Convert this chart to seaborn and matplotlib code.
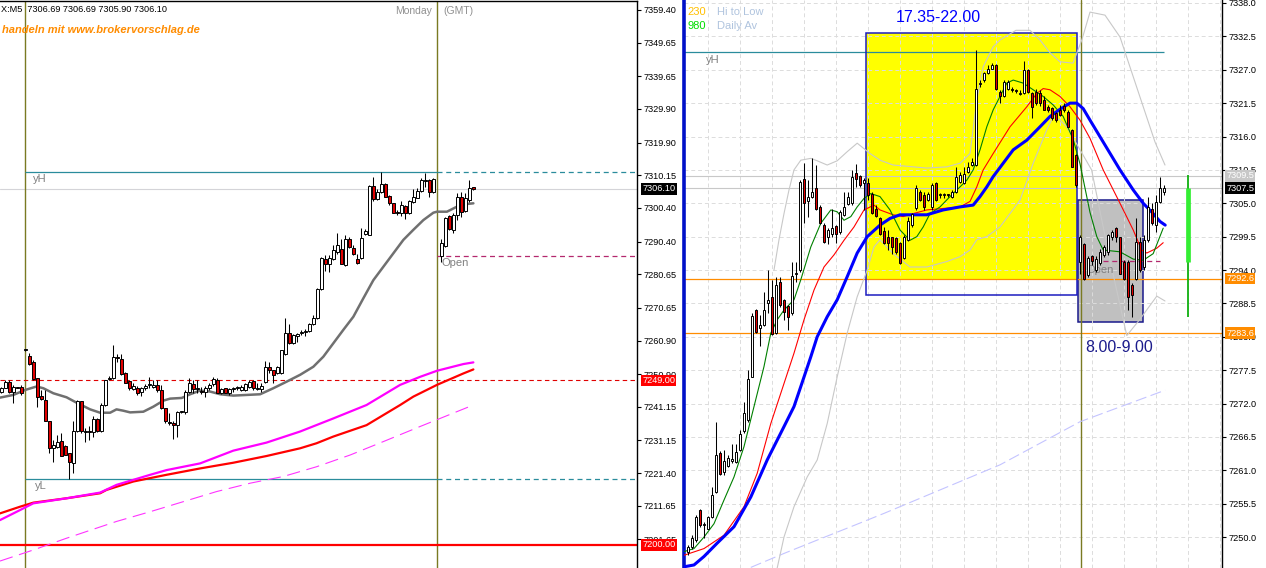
import numpy as np
import pandas as pd
import matplotlib
matplotlib.use("Agg")
import matplotlib.pyplot as plt
import seaborn as sns
from matplotlib.patches import Rectangle

W, H = 1266, 568

# ===================== LEFT CHART DATA (X,M5) =====================
L_slot = list(range(0, 109)) + list(range(110, 119))
L_open = [7245.6, 7246.9, 7248.6, 7245.5, 7246.9, 7247.2, 7258.0, 7256.3, 7254.6, 7249.7,
          7244.5, 7243.3, 7236.8, 7228.8, 7229.3, 7231.0, 7229.6, 7227.3, 7224.5, 7234.1,
          7243.0, 7233.6, 7233.9, 7233.8, 7237.6, 7234.1, 7241.6, 7249.4, 7249.7, 7255.8,
          7255.5, 7251.2, 7248.9, 7246.4, 7246.9, 7245.5, 7246.7, 7247.6, 7247.0, 7247.7,
          7246.2, 7240.7, 7236.4, 7236.3, 7235.6, 7239.5, 7239.6, 7245.5, 7247.9, 7246.6,
          7245.7, 7245.7, 7246.9, 7247.9, 7249.2, 7245.4, 7246.7, 7245.2, 7246.6, 7246.8,
          7246.2, 7246.2, 7247.2, 7248.9, 7246.6, 7246.4, 7248.7, 7253.0, 7252.0, 7251.2,
          7251.2, 7257.0, 7263.3, 7260.3, 7262.2, 7263.1, 7263.4, 7263.8, 7265.7, 7267.5,
          7276.2, 7285.3, 7283.8, 7285.3, 7287.3, 7288.3, 7283.5, 7291.1, 7288.5, 7285.1,
          7285.5, 7292.6, 7292.5, 7307.0, 7303.0, 7305.3, 7307.5, 7304.0, 7301.8, 7299.3,
          7298.8, 7301.0, 7298.8, 7302.3, 7303.5, 7305.6, 7308.5, 7308.6, 7305.1,
          7286.1, 7289.1, 7298.0, 7293.8, 7298.3, 7303.8, 7299.6, 7302.8, 7306.69]
L_high = [7247.2, 7249.2, 7249.2, 7247.7, 7247.0, 7247.7, 7258.3, 7257.3, 7255.1, 7249.7,
          7246.2, 7246.2, 7236.8, 7231.3, 7232.8, 7233.3, 7229.8, 7227.3, 7236.8, 7243.3,
          7243.0, 7234.8, 7235.3, 7238.3, 7237.8, 7242.3, 7249.2, 7250.2, 7259.5, 7257.0,
          7257.0, 7251.4, 7249.2, 7248.2, 7247.4, 7247.2, 7247.9, 7249.9, 7249.2, 7249.2,
          7247.7, 7240.7, 7239.3, 7236.8, 7239.8, 7239.8, 7246.2, 7249.7, 7249.2, 7249.2,
          7247.2, 7247.4, 7248.2, 7249.9, 7249.7, 7246.9, 7246.9, 7246.9, 7247.2, 7247.4,
          7247.7, 7248.4, 7249.2, 7249.2, 7248.2, 7248.4, 7254.7, 7254.4, 7252.2, 7253.4,
          7258.2, 7267.5, 7265.8, 7263.0, 7263.2, 7264.0, 7264.2, 7266.0, 7268.5, 7276.5,
          7285.8, 7286.3, 7286.3, 7289.3, 7293.0, 7291.3, 7292.3, 7291.8, 7289.3, 7286.8,
          7294.3, 7294.1, 7307.3, 7309.6, 7306.0, 7311.1, 7307.8, 7304.3, 7302.0, 7299.8,
          7302.6, 7301.3, 7302.8, 7306.0, 7306.3, 7309.3, 7310.8, 7309.0, 7309.3,
          7291.2, 7297.8, 7298.3, 7298.9, 7304.9, 7305.3, 7304.9, 7308.8, 7306.69]
L_low = [7245.2, 7246.7, 7245.2, 7242.4, 7246.7, 7244.7, 7257.8, 7253.5, 7249.0, 7241.2,
         7243.2, 7236.8, 7227.3, 7224.8, 7228.8, 7226.6, 7226.8, 7219.6, 7221.5, 7233.8,
         7233.5, 7230.8, 7231.3, 7232.3, 7233.8, 7233.8, 7241.3, 7249.0, 7249.4, 7254.5,
         7250.7, 7248.2, 7246.2, 7246.2, 7244.7, 7244.4, 7246.2, 7246.7, 7246.7, 7245.7,
         7240.4, 7236.3, 7235.8, 7231.5, 7232.1, 7239.3, 7239.0, 7245.2, 7245.2, 7245.2,
         7245.0, 7244.0, 7246.2, 7247.4, 7245.2, 7245.0, 7245.2, 7244.7, 7245.7, 7246.2,
         7246.0, 7246.0, 7246.7, 7246.2, 7246.2, 7245.7, 7248.4, 7251.2, 7248.4, 7251.0,
         7251.0, 7256.5, 7259.8, 7260.0, 7260.5, 7262.5, 7262.2, 7263.5, 7265.5, 7267.2,
         7276.0, 7281.5, 7281.2, 7285.0, 7286.8, 7283.6, 7283.2, 7288.6, 7286.3, 7283.8,
         7285.3, 7292.4, 7292.3, 7302.6, 7302.8, 7305.0, 7303.6, 7301.3, 7298.8, 7298.3,
         7298.0, 7297.0, 7298.6, 7302.0, 7303.3, 7305.3, 7306.8, 7303.8, 7304.8,
         7284.4, 7288.7, 7293.8, 7293.0, 7296.8, 7297.8, 7299.3, 7302.3, 7305.90]
L_close = [7246.7, 7248.6, 7245.5, 7247.2, 7246.8, 7245.2, 7258.1, 7253.9, 7249.5, 7244.0,
           7243.5, 7236.8, 7228.8, 7229.8, 7230.8, 7226.6, 7226.8, 7224.8, 7234.0, 7242.8,
           7234.1, 7233.7, 7233.8, 7237.6, 7234.1, 7241.8, 7249.2, 7249.6, 7256.0, 7255.6,
           7251.0, 7248.4, 7246.7, 7247.4, 7245.4, 7246.7, 7247.5, 7247.7, 7247.7, 7246.2,
           7240.7, 7236.8, 7236.2, 7235.6, 7239.6, 7239.7, 7245.7, 7248.2, 7246.4, 7246.8,
           7245.6, 7246.9, 7247.7, 7249.5, 7245.4, 7246.5, 7245.4, 7246.4, 7246.7, 7246.9,
           7247.2, 7248.0, 7248.7, 7246.7, 7246.8, 7247.4, 7253.0, 7252.0, 7250.7, 7253.0,
           7258.0, 7263.3, 7260.3, 7262.5, 7263.0, 7263.3, 7263.6, 7265.8, 7267.7, 7276.3,
           7285.5, 7283.8, 7285.5, 7287.8, 7289.3, 7283.8, 7291.1, 7288.8, 7286.6, 7284.0,
           7291.6, 7293.4, 7307.0, 7303.0, 7305.3, 7307.5, 7303.8, 7301.8, 7299.0, 7298.8,
           7301.3, 7298.8, 7302.5, 7303.6, 7305.6, 7308.6, 7308.7, 7305.1, 7309.1,
           7289.9, 7297.3, 7294.1, 7298.3, 7303.8, 7299.3, 7303.3, 7306.3, 7306.10]

# moving averages (read at sample points)
L_ma_x = [-0.33, 3.0, 6.0, 8.8, 10.5, 13.0, 16.3, 18.8, 22.2, 24.7, 27.2, 28.8, 30.5, 32.2, 35.5,
          38.0, 40.5, 42.2, 45.1, 47.2, 49.7, 52.2, 54.7, 58.0, 64.7, 68.0, 71.4, 74.7, 78.0,
          80.5, 83.0, 85.5, 88.0, 90.5, 93.0, 95.5, 98.0, 100.5, 103.0, 105.5, 108.0, 108.9,
          111.4, 113.9, 116.4, 118.0]
L_ma_y = [7243.9, 7244.7, 7246.2, 7247.2, 7246.7, 7245.2, 7244.0, 7242.4, 7240.4, 7239.4, 7239.4,
          7240.4, 7240.0, 7239.5, 7239.7, 7241.2, 7243.0, 7243.6, 7243.8, 7244.9, 7246.0, 7245.7,
          7244.9, 7244.5, 7244.9, 7246.7, 7248.7, 7250.7, 7253.1, 7256.1, 7260.1, 7264.1, 7268.0,
          7273.5, 7278.9, 7282.9, 7286.9, 7290.9, 7293.9, 7296.8, 7299.0, 7299.3, 7299.3, 7300.8,
          7301.6, 7301.8]
L_mag_x = [-0.33, 4.7, 8.0, 16.3, 24.7, 28.8, 33.0, 37.2, 41.3, 49.7, 58.0, 66.3, 74.7, 83.0,
           91.3, 99.7, 104.7, 108.9, 115.5, 118.0]
L_mag_y = [7207.4, 7210.4, 7212.4, 7213.9, 7215.6, 7217.9, 7219.4, 7220.9, 7222.3, 7224.3, 7228.1,
           7230.5, 7233.8, 7237.7, 7241.7, 7247.7, 7250.1, 7251.9, 7253.9, 7254.4]
L_red_x = [-0.33, 4.7, 8.0, 16.3, 24.7, 26.3, 33.0, 41.3, 49.7, 58.0, 66.3, 74.7, 78.8, 83.0,
           91.3, 99.7, 103.0, 108.9, 115.5, 118.0]
L_red_y = [7209.4, 7211.4, 7212.6, 7213.9, 7215.4, 7216.4, 7218.9, 7220.9, 7222.8, 7224.5, 7226.5,
           7228.8, 7230.3, 7232.3, 7235.7, 7241.7, 7244.2, 7247.7, 7251.1, 7252.3]
L_dash_x = [-0.33, 8.0, 16.3, 28.8, 37.2, 45.5, 53.8, 62.2, 70.5, 78.8, 87.2, 95.5, 104.7, 118.0]
L_dash_y = [7195.2, 7198.5, 7202.0, 7207.0, 7209.9, 7212.9, 7215.9, 7218.4, 7220.4, 7223.3,
            7226.8, 7230.8, 7235.3, 7241.7]

L_ticks = [7359.40, 7349.65, 7339.65, 7329.90, 7319.90, 7310.15, 7300.40, 7290.40, 7280.65,
           7270.65, 7260.90, 7250.90, 7241.15, 7231.15, 7221.40, 7211.65, 7201.65]
L_day_sep = [6, 109]
L_yH, L_yL = 7311.1, 7219.6
L_open_lvl = 7286.1
L_pivot = 7249.00
L_round = 7200.00
L_last = 7306.10

# ===================== RIGHT CHART DATA =====================
R_slot = list(range(0, 120))
R_open = [7247.6, 7248.3, 7249.5, 7254.4, 7252.0, 7251.4, 7253.3, 7257.5, 7263.8, 7260.8,
          7261.7, 7262.6, 7262.4, 7264.3, 7267.4, 7269.3, 7276.4, 7287.4, 7284.4, 7284.9,
          7288.5, 7289.6, 7283.6, 7292.1, 7289.1, 7288.0, 7286.9, 7293.4, 7294.0, 7309.0,
          7305.4, 7306.0, 7307.5, 7304.4, 7301.4, 7299.5, 7300.0, 7301.3, 7300.3, 7303.1,
          7304.9, 7305.0, 7310.0, 7309.5, 7308.3, 7308.4, 7306.5, 7304.0, 7302.5, 7300.4,
          7299.5, 7299.4, 7299.2, 7298.4, 7295.9, 7299.0, 7301.4, 7304.2, 7306.9, 7306.4,
          7305.5, 7304.4, 7308.4, 7306.3, 7306.3, 7306.4, 7306.1, 7306.9, 7308.5, 7308.3,
          7310.2, 7311.3, 7311.3, 7324.7, 7325.3, 7326.4, 7327.2, 7327.8, 7323.4, 7322.6,
          7323.9, 7323.8, 7323.6, 7323.0, 7323.1, 7327.0, 7323.1, 7323.4, 7323.1, 7322.0,
          7320.9, 7320.7, 7319.8, 7320.4, 7321.0, 7320.1, 7317.1, 7313.0, 7295.4, 7298.3,
          7293.2, 7296.3, 7294.0, 7295.1, 7296.5, 7296.9, 7299.4, 7300.9, 7299.4, 7295.4,
          7295.4, 7291.5, 7292.6, 7298.7, 7294.5, 7299.0, 7304.0, 7301.4, 7305.2, 7306.9]
R_high = [7248.7, 7250.3, 7253.6, 7254.6, 7252.4, 7253.4, 7258.3, 7269.0, 7264.1, 7264.3,
          7263.5, 7265.4, 7265.4, 7267.6, 7272.3, 7277.5, 7286.9, 7287.5, 7286.6, 7290.4,
          7294.0, 7292.4, 7292.9, 7292.9, 7289.2, 7288.2, 7295.4, 7295.4, 7308.8, 7311.6,
          7308.8, 7312.4, 7311.3, 7304.7, 7301.7, 7301.0, 7304.0, 7301.4, 7303.9, 7306.9,
          7306.9, 7310.5, 7311.5, 7309.7, 7309.1, 7309.2, 7306.9, 7304.7, 7302.8, 7301.1,
          7300.6, 7299.5, 7299.5, 7298.7, 7299.8, 7302.8, 7303.4, 7308.0, 7307.2, 7306.9,
          7306.9, 7308.4, 7308.5, 7306.7, 7306.7, 7306.6, 7307.2, 7311.0, 7310.2, 7311.0,
          7311.8, 7312.4, 7330.3, 7325.3, 7326.7, 7327.8, 7328.1, 7328.0, 7323.7, 7325.3,
          7325.3, 7324.2, 7323.9, 7323.7, 7328.5, 7327.1, 7323.4, 7323.9, 7323.7, 7322.6,
          7321.2, 7320.9, 7320.1, 7321.2, 7321.5, 7320.4, 7317.3, 7313.2, 7299.8, 7298.4,
          7296.3, 7296.5, 7296.3, 7297.4, 7298.1, 7300.0, 7300.6, 7301.1, 7299.5, 7295.7,
          7295.7, 7291.8, 7302.5, 7299.5, 7299.8, 7306.1, 7305.0, 7306.4, 7309.4, 7308.0]
R_low = [7247.0, 7248.1, 7249.2, 7251.7, 7249.8, 7251.3, 7253.1, 7257.2, 7260.2, 7260.2,
         7261.5, 7262.2, 7262.2, 7264.1, 7267.1, 7269.0, 7276.3, 7283.6, 7281.4, 7284.7,
         7286.9, 7283.3, 7283.4, 7287.9, 7285.8, 7284.1, 7286.6, 7292.1, 7293.7, 7301.8,
         7302.8, 7305.8, 7303.9, 7301.6, 7298.4, 7298.3, 7299.5, 7298.4, 7300.0, 7302.9,
         7304.7, 7304.7, 7307.7, 7307.7, 7303.9, 7305.5, 7303.3, 7302.8, 7299.8, 7298.3,
         7297.3, 7296.7, 7296.7, 7295.0, 7295.8, 7298.8, 7301.1, 7303.9, 7305.3, 7303.9,
         7305.3, 7303.9, 7305.4, 7305.9, 7305.9, 7306.0, 7305.8, 7306.7, 7308.4, 7308.2,
         7310.0, 7311.1, 7311.1, 7324.2, 7325.0, 7326.3, 7327.1, 7323.7, 7321.5, 7322.5,
         7323.7, 7323.4, 7323.1, 7322.8, 7323.0, 7323.1, 7319.0, 7321.2, 7321.0, 7320.3,
         7320.1, 7318.8, 7318.4, 7319.3, 7320.1, 7317.5, 7310.9, 7307.7, 7293.4, 7292.4,
         7292.9, 7294.8, 7293.7, 7294.8, 7296.1, 7296.5, 7298.9, 7298.7, 7293.3, 7292.4,
         7287.4, 7286.3, 7292.4, 7293.7, 7294.0, 7298.7, 7301.4, 7300.3, 7305.0, 7306.4]
R_close = [7248.3, 7249.9, 7253.3, 7252.0, 7252.1, 7253.3, 7256.9, 7263.5, 7260.4, 7262.5,
           7263.0, 7262.8, 7264.0, 7267.0, 7270.4, 7276.0, 7286.4, 7283.8, 7284.9, 7287.4,
           7289.1, 7283.4, 7291.5, 7288.2, 7287.1, 7286.3, 7293.0, 7293.5, 7308.5, 7305.0,
           7306.0, 7306.9, 7304.0, 7301.8, 7298.7, 7300.6, 7300.9, 7300.0, 7303.6, 7304.4,
           7306.0, 7309.4, 7309.0, 7308.0, 7308.8, 7306.4, 7303.4, 7302.9, 7299.9, 7298.4,
           7298.5, 7297.8, 7297.0, 7295.2, 7299.5, 7302.0, 7303.3, 7307.5, 7305.5, 7304.4,
           7306.6, 7308.0, 7305.5, 7306.4, 7306.5, 7306.3, 7306.9, 7309.4, 7309.7, 7309.9,
           7310.9, 7311.8, 7323.9, 7324.8, 7326.4, 7327.1, 7327.8, 7323.9, 7322.6, 7325.0,
           7325.0, 7323.7, 7323.5, 7323.2, 7327.0, 7323.4, 7320.9, 7321.5, 7321.5, 7320.4,
           7320.4, 7319.0, 7318.7, 7319.5, 7320.4, 7317.6, 7311.0, 7308.0, 7299.5, 7292.6,
           7295.9, 7295.5, 7295.8, 7297.0, 7297.8, 7299.8, 7300.3, 7299.4, 7293.4, 7292.6,
           7289.6, 7289.9, 7298.7, 7294.0, 7299.0, 7304.4, 7301.8, 7305.2, 7307.5, 7307.5]

R_blue_x = [-1.0, 1.5, 4.0, 7.3, 11.5, 15.7, 19.8, 24.0, 26.5, 28.2, 30.7, 32.3, 34.8, 37.3, 39.8,
            42.3, 44.8, 48.0, 50.5, 53.0, 59.7, 63.8, 68.0, 71.3, 73.0, 74.7, 76.3, 78.8, 81.3,
            84.7, 88.0, 90.5, 93.0, 95.5, 97.2, 98.8, 100.5, 108.0, 111.3, 113.8, 116.3, 118.0, 119.3]
R_blue_y = [7245.1, 7245.4, 7246.8, 7249.0, 7251.7, 7256.6, 7262.7, 7268.2, 7271.5, 7274.8, 7279.7,
            7283.0, 7286.3, 7289.1, 7292.9, 7296.8, 7299.5, 7301.4, 7302.5, 7303.1, 7303.1, 7303.9,
            7304.4, 7304.7, 7306.1, 7307.7, 7309.4, 7311.6, 7313.8, 7315.4, 7317.6, 7319.3, 7320.5,
            7321.5, 7321.5, 7320.6, 7318.7, 7310.5, 7307.2, 7305.0, 7303.3, 7302.0, 7301.4]
R_red_x = [-1.0, 4.0, 9.0, 14.0, 17.3, 20.7, 24.0, 26.5, 29.0, 31.5, 34.0, 36.5, 39.0, 41.5, 44.0,
           46.5, 48.0, 51.3, 53.8, 56.3, 59.7, 64.7, 68.0, 70.5, 72.2, 73.8, 76.3, 80.5, 84.7, 87.2,
           88.8, 90.5, 93.0, 95.5, 98.0, 100.5, 103.8, 108.0, 111.3, 113.4, 114.7, 117.2, 118.8]
R_red_y = [7247.0, 7248.1, 7250.3, 7255.0, 7260.5, 7268.7, 7275.3, 7280.3, 7285.8, 7290.7, 7294.5,
           7296.5, 7298.9, 7301.1, 7303.9, 7304.7, 7303.9, 7303.1, 7302.8, 7303.3, 7303.9, 7304.2,
           7304.4, 7305.3, 7307.7, 7310.5, 7313.2, 7317.6, 7320.9, 7323.1, 7323.9, 7323.7, 7322.6,
           7320.9, 7318.7, 7315.7, 7310.5, 7305.0, 7300.6, 7297.3, 7296.8, 7297.6, 7298.5]
R_green_x = [-1.0, 1.5, 4.0, 6.5, 9.0, 11.5, 14.0, 16.5, 19.0, 20.7, 22.3, 24.0, 26.5, 28.2, 30.7,
             33.2, 35.7, 37.3, 39.0, 40.7, 42.3, 44.0, 45.7, 48.0, 50.5, 53.0, 55.5, 57.2, 58.8,
             60.5, 63.0, 65.5, 68.0, 69.7, 71.3, 73.0, 74.7, 76.3, 78.0, 79.7, 81.3, 83.8, 86.3,
             88.8, 91.3, 93.8, 96.3, 98.0, 100.5, 102.2, 103.8, 108.0, 111.3, 113.8, 116.3, 118.8]
R_green_y = [7247.6, 7248.1, 7250.0, 7252.2, 7256.1, 7259.9, 7264.9, 7271.5, 7278.1, 7283.6, 7285.8,
             7287.4, 7289.1, 7292.4, 7297.8, 7301.7, 7303.9, 7303.6, 7302.2, 7302.8, 7304.4, 7305.8,
             7306.6, 7306.1, 7303.9, 7300.6, 7298.9, 7299.5, 7301.1, 7303.3, 7304.4, 7306.1, 7307.7,
             7308.8, 7310.5, 7313.8, 7317.6, 7320.4, 7322.6, 7324.8, 7325.3, 7324.8, 7323.7, 7322.6,
             7321.2, 7319.3, 7315.5, 7311.5, 7303.5, 7299.5, 7297.3, 7297.0, 7295.8, 7295.6, 7296.7,
             7300.9]
R_up_x = [21.5, 22.75, 24.0, 25.25, 26.5, 28.2, 30.7, 32.3, 34.8, 37.3, 39.8, 42.3, 45.5, 48.0,
          51.3, 59.7, 64.7, 68.0, 70.5, 72.2, 73.8, 76.3, 78.0, 82.0, 85.5, 88.0, 90.5, 93.0, 96.25,
          98.5, 100.5, 104.25, 108.0, 113.0, 116.75, 119.25]
R_up_y = [7294.0, 7299.0, 7303.3, 7307.2, 7310.5, 7312.1, 7312.4, 7312.0, 7311.3, 7312.0, 7313.5,
          7314.9, 7313.2, 7312.1, 7311.3, 7310.8, 7311.0, 7311.6, 7313.2, 7322.0, 7327.5, 7330.8,
          7331.9, 7333.5, 7333.5, 7331.9, 7329.8, 7328.3, 7328.1, 7332.0, 7336.5, 7336.0, 7332.4,
          7322.5, 7315.1, 7311.3]
R_lo_x = [22.3, 24.0, 26.5, 29.8, 32.3, 34.8, 37.3, 39.8, 42.3, 44.8, 46.5, 48.0, 51.3, 55.5, 59.7,
          64.7, 68.0, 70.5, 72.2, 74.7, 78.0, 83.0, 86.3, 89.7, 91.3, 93.0, 94.7, 100.9, 105.5,
          109.7, 113.0, 117.2, 119.25]
R_lo_y = [7244.9, 7250.0, 7255.0, 7259.9, 7262.7, 7268.7, 7276.4, 7283.6, 7289.6, 7294.0, 7297.8,
          7299.0, 7296.7, 7294.5, 7294.5, 7295.4, 7296.2, 7297.3, 7299.0, 7299.5, 7301.1, 7305.5,
          7311.6, 7317.1, 7319.3, 7318.7, 7317.6, 7310.5, 7295.6, 7283.2, 7285.9, 7289.7, 7288.9]
R_lav_x = [15.7, 24.0, 32.3, 40.7, 49.0, 78.0, 98.0, 119.3]
R_lav_y = [7245.0, 7247.3, 7249.5, 7251.7, 7253.9, 7261.9, 7269.0, 7274.2]

R_ticks = [7338.0, 7332.5, 7327.0, 7321.5, 7316.0, 7310.5, 7305.0, 7299.5, 7294.0, 7288.5,
           7283.0, 7277.5, 7272.0, 7266.5, 7261.0, 7255.5, 7250.0]
R_day_sep = 98.2
R_yH = 7330.0
R_open_lvl = 7295.5
R_hi_lo, R_daily_av = 230, 980
R_range_hi, R_range_lo = 7292.6, 7283.6
R_prev, R_last = 7309.5, 7307.5
# session boxes
S_label = ["17.35-22.00", "8.00-9.00"]
S_label_x = [62.5, 107.9]
S_label_y = [7335.6, 7281.2]
S_x0 = [44.5, 97.5]
S_x1 = [97.25, 113.7]
S_top = [7333.06, 7305.5]
S_bot = [7289.9, 7285.4]
S_fill_bot = [7292.6, 7285.4]
# projection bar
P_slot = 125
P_thin = (7286.3, 7309.7)
P_thick = (7295.3, 7307.5)

# ===================== DRAWING =====================
sns.set_style("white")
plt.rcParams['font.family'] = ['Liberation Sans', 'DejaVu Sans']

fig = plt.figure(figsize=(W / 100, H / 100), dpi=100)
fig.patch.set_facecolor("white")
axL = fig.add_axes([0, 0, 637 / W, 567 / H])
axR = fig.add_axes([684 / W, 0, 538 / W, 1.0])

UP, DOWN = "white", "#e00000"
OLIVE = "#7a7a22"
TEAL = "#2a8c9c"
PINK = "#b4286e"


def candles(ax, slots, o, h, l, c, min_h, z=4):
    s = np.asarray(slots, float)
    o = np.asarray(o); h = np.asarray(h); l = np.asarray(l); c = np.asarray(c)
    ax.vlines(s, l, h, color="black", lw=0.75, zorder=z)
    bot = np.minimum(o, c)
    ht = np.maximum(np.abs(c - o), min_h)
    cols = np.where(c >= o, UP, DOWN)
    ax.bar(s, ht, 0.72, bottom=bot, color=cols, edgecolor="black", linewidth=0.7, zorder=z + 0.1)


def line(ax, xs, ys, color, lw, z=3, dashes=None):
    df = pd.DataFrame({"x": xs, "y": ys})
    sns.lineplot(data=df, x="x", y="y", ax=ax, color=color, linewidth=lw, estimator=None,
                 sort=False, legend=False, zorder=z)
    if dashes is not None:
        ax.lines[-1].set_dashes(dashes)


def price_tag(ax, y, txt, fc, dx):
    ax.text(1 + dx, y, txt, transform=ax.get_yaxis_transform(), ha="left", va="center",
            fontsize=6.6, color="white", clip_on=False, zorder=10,
            bbox=dict(boxstyle="square,pad=0.15", fc=fc, ec="none"))


# ---------- LEFT ----------
axL.set_xlim(-0.325, 158.9)
axL.set_ylim(7193.13, 7362.08)
for s in ["left", "bottom"]:
    axL.spines[s].set_visible(False)
for s in ["top", "right"]:
    axL.spines[s].set_color("black")
    axL.spines[s].set_linewidth(1.0)
axL.set_xticks([])
axL.yaxis.tick_right()
axL.set_yticks(L_ticks)
axL.set_yticklabels([f"{v:.2f}" for v in L_ticks])
axL.tick_params(axis="y", direction="out", length=3, width=0.8, pad=2, labelsize=6.6, colors="black")

for xs in L_day_sep:
    axL.axvline(xs, color=OLIVE, lw=1.0, zorder=2)
axL.axhline(L_round, color="#ff0000", lw=1.6, zorder=2)
axL.axhline(L_pivot, color="#e00000", lw=0.8, ls=(0, (4, 3)), zorder=2)
axL.axhline(L_last, color="#d4d4d8", lw=0.8, zorder=1)
for lvl in [L_yH, L_yL]:
    axL.hlines(lvl, L_day_sep[0], L_day_sep[1], color=TEAL, lw=0.9, zorder=2)
    axL.hlines(lvl, L_day_sep[1], 158.9, color=TEAL, lw=0.9, linestyles=(0, (4, 3)), zorder=2)
axL.hlines(L_open_lvl, L_day_sep[1], 158.9, color=PINK, lw=0.9, linestyles=(0, (4, 3)), zorder=2)

line(axL, L_dash_x, L_dash_y, "#ff33ff", 0.8, dashes=(12, 6))
line(axL, L_red_x, L_red_y, "#ff0000", 1.6)
line(axL, L_mag_x, L_mag_y, "#ff00ff", 1.6)
line(axL, L_ma_x, L_ma_y, "#707070", 1.8)
axL.set_xlabel(""); axL.set_ylabel("")
candles(axL, L_slot, L_open, L_high, L_low, L_close, 0.3)

axL.text(7.8, L_yH - 0.6, "yH", color="#808080", fontsize=8, va="top", ha="left")
axL.text(8.3, L_yL - 0.6, "yL", color="#808080", fontsize=8, va="top", ha="left")
axL.text(110.0, L_open_lvl - 0.5, "Open", color="#808080", fontsize=8, va="top", ha="left")

price_tag(axL, L_pivot, f"{L_pivot:.2f}", "#ff0000", 0.008)
price_tag(axL, L_last, f"{L_last:.2f}", "black", 0.008)
price_tag(axL, L_round, f"{L_round:.2f}", "#ff0000", 0.008)

fig.text(1 / W, 1 - 10 / H, "X:M5  7306.69 7306.69 7305.90 7306.10", fontsize=6.6,
         color="black", va="center", ha="left")
fig.text(2 / W, 1 - 30 / H, "handeln mit www.brokervorschlag.de", fontsize=8,
         color="#ff8c00", fontweight="bold", fontstyle="italic", va="center", ha="left")
fig.text(432 / W, 1 - 11 / H, "Monday", fontsize=7.5, color="#909090", va="center", ha="right")
fig.text(443 / W, 1 - 11 / H, "(GMT)", fontsize=7.5, color="#909090", va="center", ha="left")

# ---------- RIGHT ----------
axR.set_xlim(-1.0, 133.5)
axR.set_ylim(7244.9, 7338.494)
for s in ["top", "bottom"]:
    axR.spines[s].set_visible(False)
axR.spines["right"].set_color("black")
axR.spines["right"].set_linewidth(1.0)
axR.spines["left"].set_color("#0010c8")
axR.spines["left"].set_linewidth(2.6)
axR.set_xticks([])
axR.yaxis.tick_right()
axR.set_yticks(R_ticks)
axR.set_yticklabels([f"{v:.1f}" for v in R_ticks])
axR.tick_params(axis="y", direction="out", length=3, width=0.8, pad=2, labelsize=6.6, colors="black")

# session boxes
for i in range(len(S_label)):
    if i == 0:
        axR.add_patch(Rectangle((S_x0[i], S_fill_bot[i]), S_x1[i] - S_x0[i], S_top[i] - S_fill_bot[i],
                                fc="#ffff00", ec="none", zorder=1))
        axR.add_patch(Rectangle((S_x0[i], S_bot[i]), S_x1[i] - S_x0[i], S_top[i] - S_bot[i],
                                fill=False, ec="#1c1cc0", lw=1.1, zorder=2.5))
    else:
        axR.add_patch(Rectangle((S_x0[i], S_bot[i]), S_x1[i] - S_x0[i], S_top[i] - S_bot[i],
                                fc="#c0c0c0", ec="#1a1a8c", lw=1.1, zorder=1))

# dashed grid above boxes
for t in R_ticks:
    axR.axhline(t, color="#dcdcdc", lw=0.7, ls=(0, (4, 3)), zorder=1.5)
for gx in range(5, 134, 8):
    axR.axvline(gx, color="#dcdcdc", lw=0.7, ls=(0, (4, 3)), zorder=1.5)

axR.axhline(R_range_hi, color="#ff8c00", lw=0.9, zorder=2)
axR.axhline(R_range_lo, color="#ff8c00", lw=0.9, zorder=2)
axR.axhline(R_prev, color="#c8c8c8", lw=0.8, zorder=2)
axR.axhline(R_last, color="#c8c8c8", lw=0.8, zorder=2)
axR.hlines(R_yH, -1.0, 119.0, color=TEAL, lw=0.9, zorder=2)
axR.axvline(R_day_sep, color=OLIVE, lw=1.0, zorder=2.6)

line(axR, R_lav_x, R_lav_y, "#c4c4ff", 0.8, z=2.7, dashes=(10, 4))
line(axR, R_up_x, R_up_y, "#c8c8c8", 0.8, z=2.7)
line(axR, R_lo_x, R_lo_y, "#c8c8c8", 0.8, z=2.7)
line(axR, R_red_x, R_red_y, "#ff0000", 0.8, z=3)
line(axR, R_green_x, R_green_y, "#008000", 0.8, z=3)
line(axR, R_blue_x, R_blue_y, "#0000ff", 2.2, z=3.2)
axR.set_xlabel(""); axR.set_ylabel("")

axR.hlines(R_open_lvl, 103.75, 118.0, color=PINK, lw=0.9, linestyles=(0, (4, 3)), zorder=3.3)
candles(axR, R_slot, R_open, R_high, R_low, R_close, 0.18)

axR.vlines(P_slot, P_thin[0], P_thin[1], color="#10b010", lw=1.3, zorder=3)
axR.vlines(P_slot, P_thick[0], P_thick[1], color="#33ee33", lw=3.4, zorder=3.1)

axR.text(S_label_x[0], S_label_y[0], S_label[0], color="#0000ff", fontsize=11.5,
         ha="center", va="center")
axR.text(S_label_x[1], S_label_y[1], S_label[1], color="#1c1c8c", fontsize=11.5,
         ha="center", va="center")
axR.text(4.5, R_yH - 0.5, "yH", color="#808080", fontsize=8, va="top", ha="left")
axR.text(99.7, R_open_lvl - 0.6, "Open", color="#808080", fontsize=8, va="top", ha="left", zorder=3.4)

fig.text(687 / W, 1 - 12 / H, f"{R_hi_lo}", fontsize=8, color="#ffbf00", va="center", ha="left")
fig.text(717 / W, 1 - 12 / H, "Hi to Low", fontsize=8, color="#b0c4de", va="center", ha="left")
fig.text(687 / W, 1 - 26 / H, f"{R_daily_av}", fontsize=8, color="#00dd00", va="center", ha="left")
fig.text(717 / W, 1 - 26 / H, "Daily Av", fontsize=8, color="#b0c4de", va="center", ha="left")

price_tag(axR, R_prev, f"{R_prev:.1f}", "#c8c8c8", 0.0075)
price_tag(axR, R_last, f"{R_last:.1f}", "black", 0.0075)
price_tag(axR, R_range_hi, f"{R_range_hi:.1f}", "#ff8c00", 0.0075)
price_tag(axR, R_range_lo, f"{R_range_lo:.1f}", "#ff8c00", 0.0075)

fig.savefig("out.png", dpi=100, facecolor="white")
